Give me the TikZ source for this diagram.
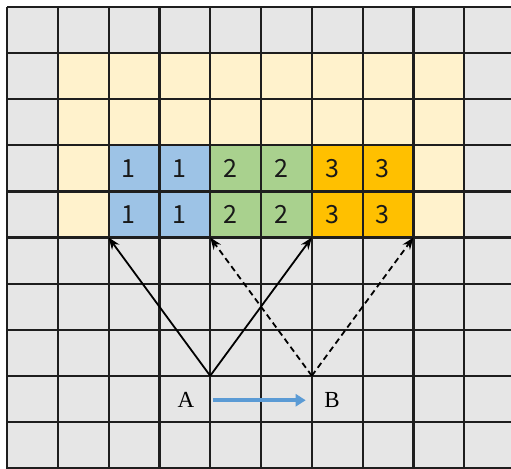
\documentclass[tikz,border=0pt]{standalone}
\usepackage{fontspec}
\newfontfamily\digitfont{Noto Sans CJK SC}
\newfontfamily\labelfont{Liberation Serif}
\usetikzlibrary{arrows.meta}
\definecolor{cellgrey}{HTML}{E6E6E6}
\definecolor{cellyellow}{HTML}{FFF2CC}
\definecolor{cellblue}{HTML}{9DC3E6}
\definecolor{cellgreen}{HTML}{A9D18E}
\definecolor{cellorange}{HTML}{FFC000}
\definecolor{arrowblue}{HTML}{5B9BD5}
\definecolor{gridline}{HTML}{1E1E1E}
\tikzset{
  gridlines/.style={draw=gridline, line width=2.2pt},
  digit/.style={font=\digitfont\fontsize{25}{27}\selectfont, text=black!90},
  ptlabel/.style={font=\labelfont\fontsize{23}{25}\selectfont},
  solidarrow/.style={draw=black, line width=1.8pt, -{Stealth[length=12pt,width=9pt]}},
  dasharrow/.style={solidarrow, dash pattern=on 6pt off 4pt},
  movearrow/.style={draw=arrowblue, line width=3.5pt, -{Triangle[length=10pt,width=12pt]}}
}
\begin{document}
\begin{tikzpicture}[x=50.8pt, y=-46.1pt]
\useasboundingbox (-0.1378,-0.1518) rectangle (9.921,10.0);
\begin{scope}
\clip (-0.1378,-0.1518) rectangle (9.921,10.0);
\fill[white] (-0.1378,-0.1518) rectangle (9.921,10.0);
\fill[cellgrey] (0,0) rectangle (10.5,10.5);
\fill[cellyellow] (1,1) rectangle (9,5);
\fill[cellblue] (2,3) rectangle (4,5);
\fill[cellgreen] (4,3) rectangle (6,5);
\fill[cellorange] (6,3) rectangle (8,5);
\foreach \i in {0,...,10} {
  \draw[gridlines] (\i,0) -- (\i,10.5);
  \draw[gridlines] (0,\i) -- (10.5,\i);
}
\end{scope}
% cell numbers
\foreach \r in {3,4} {
  \node[digit] (one-a-\r) at (2.4,\r+0.5) {1};
  \node[digit] (one-b-\r) at (3.4,\r+0.5) {1};
  \node[digit] (two-a-\r) at (4.4,\r+0.5) {2};
  \node[digit] (two-b-\r) at (5.4,\r+0.5) {2};
  \node[digit] (three-a-\r) at (6.4,\r+0.5) {3};
  \node[digit] (three-b-\r) at (7.4,\r+0.5) {3};
}
% points
\coordinate (pA) at (4,8);
\coordinate (pB) at (6,8);
\coordinate (t2) at (2,5);
\coordinate (t4) at (4,5);
\coordinate (t6) at (6,5);
\coordinate (t8) at (8,5);
\draw[solidarrow] (pA) -- (t2);
\draw[solidarrow] (pA) -- (t6);
\draw[dasharrow] (pB) -- (t4);
\draw[dasharrow] (pB) -- (t8);
\node[ptlabel] (labA) at (3.52,8.53) {A};
\node[ptlabel] (labB) at (6.40,8.53) {B};
\coordinate (m1) at (4.06,8.53);
\coordinate (m2) at (5.88,8.53);
\draw[movearrow] (m1) -- (m2);
\end{tikzpicture}
\end{document}
